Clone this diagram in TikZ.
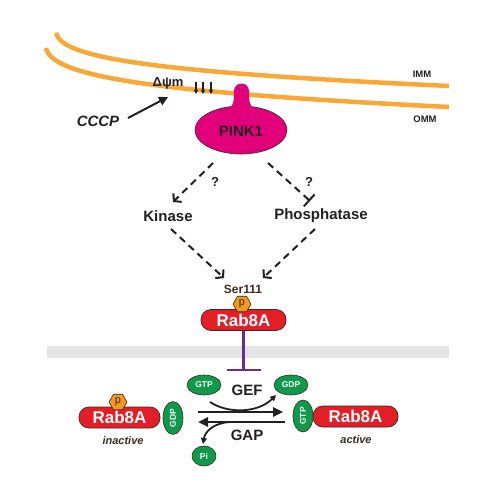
\documentclass[tikz,border=0pt]{standalone}
\usepackage{fontspec}
\setmainfont{Liberation Sans}
\usetikzlibrary{arrows.meta,shapes.geometric}
\definecolor{memb}{HTML}{F9A836}
\definecolor{pink}{HTML}{E2007A}
\definecolor{rabred}{HTML}{E41E26}
\definecolor{gfp}{HTML}{0E9A4A}
\definecolor{txt}{HTML}{231F20}
\definecolor{brn}{HTML}{3B2A22}
\definecolor{purp}{HTML}{6A2C91}
\definecolor{pgold}{HTML}{F39A1E}
\definecolor{band}{HTML}{E4E4E4}
\tikzset{
  lbl/.style={font=\bfseries\fontsize{15}{15}\selectfont, text=txt, inner sep=0},
  rab/.style={rectangle, rounded corners=10pt, fill=rabred, draw=brn, line width=0.7pt,
     text=white, font=\bfseries\fontsize{17}{17}\selectfont, inner sep=0},
  gball/.style={ellipse, fill=gfp, draw=brn, line width=0.6pt, text=white,
     font=\bfseries\fontsize{8.5}{8.5}\selectfont, inner sep=0},
  phos/.style={regular polygon, regular polygon sides=6, minimum size=18pt, inner sep=0,
     fill=pgold, draw=brn, line width=0.6pt, text=brn, font=\fontsize{11}{11}\selectfont},
  dasharr/.style={dashed, dash pattern=on 7pt off 5pt, line width=2pt, draw=txt},
  thick arr/.style={line width=2.4pt, draw=txt},
}
\begin{document}
\begin{tikzpicture}[x=1pt,y=-1pt]
\useasboundingbox (0,0) rectangle (500,500);
% membranes
\draw[memb, line width=4.5pt] (56,33) .. controls (62,58) and (150,72) .. (449,86);
\draw[memb, line width=4.5pt] (46,48) .. controls (52,76) and (145,92) .. (449,107);
\node[font=\bfseries\fontsize{9.5}{9.5}\selectfont, text=txt, inner sep=0] (imm) at (422,74) {IMM};
\node[font=\bfseries\fontsize{9.5}{9.5}\selectfont, text=txt, inner sep=0] (omm) at (425,119) {OMM};
% delta psi
\node[font=\bfseries\fontsize{13}{13}\selectfont, text=txt, inner sep=0] (dpsi) at (168,83) {Δψm};
\coordinate (a1s) at (196,82); \coordinate (a1e) at (196,94);
\coordinate (a2s) at (203,82); \coordinate (a2e) at (203,94);
\coordinate (a3s) at (211,82); \coordinate (a3e) at (211,94);
\foreach \i in {1,2,3} \draw[txt, line width=1.2pt, -{Triangle[length=4pt,width=4pt]}] (a\i s) -- (a\i e);
% CCCP
\node[font=\bfseries\itshape\fontsize{15}{15}\selectfont, text=txt, inner sep=0] (cccp) at (98,121) {CCCP};
\coordinate (cccptip) at (168,97);
\draw[txt, line width=2pt, -{Triangle[length=9pt,width=9pt]}] (128,118) -- (cccptip);
% PINK1
\node[ellipse, fill=pink, draw=brn, line width=0.6pt, minimum width=92pt, minimum height=48pt, inner sep=0] (pink) at (241,130) {};
\fill[pink] (228,110) .. controls (234,106) and (234,100) .. (234,91)
  arc[start angle=180, end angle=360, radius=7.5] .. controls (249,100) and (249,106) .. (255,110) -- cycle;
\node[font=\bfseries\fontsize{15}{15}\selectfont, text=txt, inner sep=0] (pinklbl) at (241,131) {PINK1};
% kinase / phosphatase
\node[lbl] (kin) at (168,216) {Kinase};
\node[lbl] (pho) at (321,216) {Phosphatase};
\node[lbl, font=\bfseries\fontsize{13}{13}\selectfont] (q1) at (215,182) {?};
\node[lbl, font=\bfseries\fontsize{13}{13}\selectfont] (q2) at (309,182) {?};
\coordinate (kintip) at (173,202);
\coordinate (phobar) at (310,201);
\coordinate (rabtipL) at (224,278);
\coordinate (rabtipR) at (263,278);
\draw[dasharr, -{Straight Barb[length=5pt,width=12pt]}] (213,163) -- (kintip);
\draw[dasharr, -{Bar[width=16pt,line width=2pt]}] (268,163) -- (phobar);
\draw[dasharr, -{Straight Barb[length=5pt,width=12pt]}] (171,229) -- (rabtipL);
\draw[dasharr, -{Straight Barb[length=5pt,width=12pt]}] (315,229) -- (rabtipR);
% Rab8A top
\node[font=\bfseries\fontsize{12}{12}\selectfont, text=brn, inner sep=0] (ser) at (243,289) {Ser111};
\node[rab, minimum width=85pt, minimum height=21pt] (rabT) at (243.5,320) {Rab8A};
\node[phos] (pT) at (242,304) {p};
% gray band
\fill[band] (47,346) rectangle (449,358);
% inhibition
\coordinate (inh) at (243.5,371);
\draw[purp, line width=2.5pt, -{Bar[width=34pt,line width=2.5pt]}] (rabT.south) -- (inh);
% left Rab8A
\node[rab, minimum width=81pt, minimum height=21pt] (rabL) at (119.5,417.5) {Rab8A};
\node[phos] (pL) at (118,402) {p};
\node[gball, minimum width=20pt, minimum height=33pt] (gdpL) at (173,418) {};
\node[text=white, font=\bfseries\fontsize{8.5}{8.5}\selectfont, rotate=90, inner sep=0] (gdpLt) at (gdpL) {GDP};
\node[font=\bfseries\itshape\fontsize{11}{11}\selectfont, text=brn, inner sep=0] (inact) at (123,441) {inactive};
% right Rab8A
\node[rab, minimum width=85pt, minimum height=21pt] (rabR) at (355.5,416.5) {Rab8A};
\node[gball, minimum width=20pt, minimum height=32pt] (gtpR) at (303,416) {};
\node[text=white, font=\bfseries\fontsize{8.5}{8.5}\selectfont, rotate=90, inner sep=0] (gtpRt) at (gtpR) {GTP};
\node[font=\bfseries\itshape\fontsize{11}{11}\selectfont, text=brn, inner sep=0] (act) at (356,440) {active};
% nucleotides
\node[gball, minimum width=34pt, minimum height=20pt] (gtpT) at (204,385) {GTP};
\node[gball, minimum width=34pt, minimum height=20pt] (gdpT) at (291,385) {GDP};
\node[gball, minimum width=24pt, minimum height=20pt] (pi) at (204,456) {Pi};
\node[lbl] (gef) at (247,390) {GEF};
\node[lbl] (gap) at (247,435) {GAP};
% exchange arrows
\coordinate (fwdS) at (198,412); \coordinate (fwdE) at (283,412);
\coordinate (revS) at (285,422); \coordinate (revE) at (198,422);
\coordinate (gdpIn) at (276,395);
\coordinate (piIn) at (203,444);
\draw[thick arr, -{Triangle[length=10pt,width=9pt]}] (fwdS) -- (fwdE);
\draw[thick arr, -{Triangle[length=10pt,width=9pt]}] (revS) -- (revE);
\draw[txt, line width=1.8pt, -{Triangle[length=6pt,width=6pt]}] (210,402) .. controls (228,414) and (258,413) .. (gdpIn);
\draw[txt, line width=1.8pt, -{Triangle[length=6pt,width=6pt]}] (230,422) .. controls (213,423) and (205,432) .. (piIn);
\end{tikzpicture}
\end{document}
